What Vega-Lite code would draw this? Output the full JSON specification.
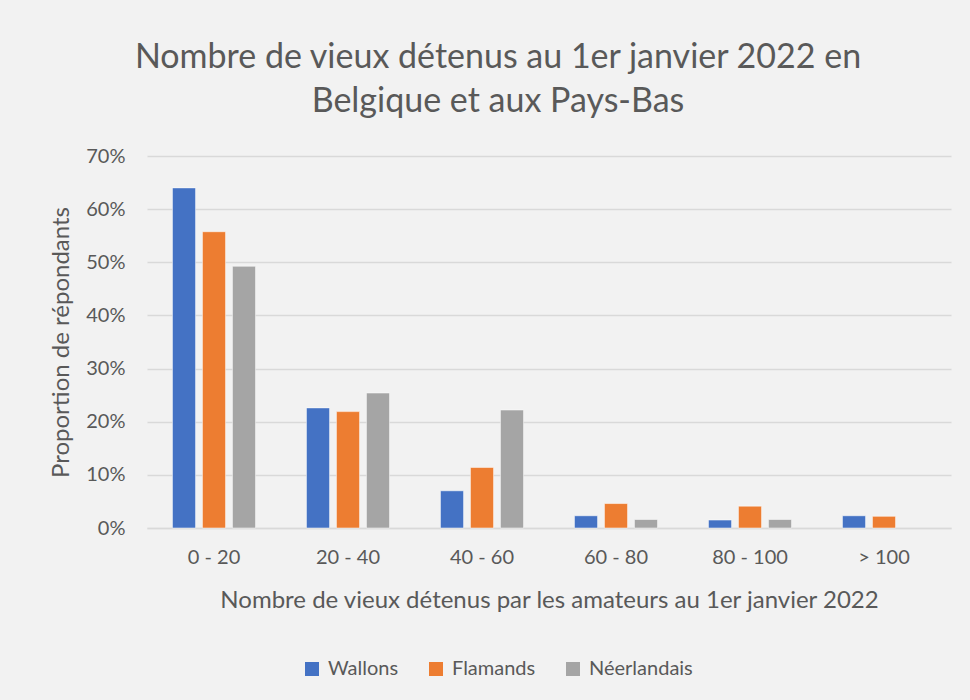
{
  "$schema": "https://vega.github.io/schema/vega-lite/v6.json",
  "width": 804,
  "height": 372,
  "autosize": {"type": "none"},
  "padding": {"left": 147, "top": 156, "right": 19, "bottom": 172},
  "background": "#f2f2f2",
  "title": {
    "text": ["Nombre de vieux détenus au 1er janvier 2022 en", "Belgique et aux Pays-Bas"],
    "anchor": "middle",
    "dx": -51,
    "offset": 27,
    "font": "Lato",
    "fontSize": 34,
    "fontWeight": "normal",
    "color": "#595959",
    "lineHeight": 44
  },
  "config": {
    "view": {"stroke": null},
    "axis": {"labelFont": "Lato", "titleFont": "Lato", "labelColor": "#595959", "titleColor": "#595959", "labelFontSize": 20, "titleFontSize": 24, "titleFontWeight": "normal"},
    "legend": {"labelFont": "Lato", "labelFontSize": 20, "labelColor": "#595959"}
  },
  "data": {
    "values": [
      {"cat": "0 - 20", "groupe": "Wallons", "v": 0.64},
      {"cat": "0 - 20", "groupe": "Flamands", "v": 0.5575},
      {"cat": "0 - 20", "groupe": "Néerlandais", "v": 0.4925},
      {"cat": "20 - 40", "groupe": "Wallons", "v": 0.226},
      {"cat": "20 - 40", "groupe": "Flamands", "v": 0.219},
      {"cat": "20 - 40", "groupe": "Néerlandais", "v": 0.254},
      {"cat": "40 - 60", "groupe": "Wallons", "v": 0.07},
      {"cat": "40 - 60", "groupe": "Flamands", "v": 0.114},
      {"cat": "40 - 60", "groupe": "Néerlandais", "v": 0.222},
      {"cat": "60 - 80", "groupe": "Wallons", "v": 0.023},
      {"cat": "60 - 80", "groupe": "Flamands", "v": 0.046},
      {"cat": "60 - 80", "groupe": "Néerlandais", "v": 0.016},
      {"cat": "80 - 100", "groupe": "Wallons", "v": 0.015},
      {"cat": "80 - 100", "groupe": "Flamands", "v": 0.041},
      {"cat": "80 - 100", "groupe": "Néerlandais", "v": 0.016},
      {"cat": "> 100", "groupe": "Wallons", "v": 0.023},
      {"cat": "> 100", "groupe": "Flamands", "v": 0.022}
    ]
  },
  "mark": {"type": "bar", "stroke": "#ffffff", "strokeOpacity": 0.5, "strokeWidth": 1},
  "encoding": {
    "x": {
      "field": "cat", "type": "nominal", "sort": null,
      "scale": {"paddingInner": 0.38, "paddingOuter": 0.19},
      "axis": {
        "title": "Nombre de vieux détenus par les amateurs au 1er janvier 2022",
        "labelAngle": 0, "ticks": false, "domainColor": "#d9d9d9", "domainWidth": 1.5,
        "labelPadding": 19, "titlePadding": 21
      }
    },
    "xOffset": {
      "field": "groupe", "type": "nominal", "sort": ["Wallons", "Flamands", "Néerlandais"],
      "scale": {"domain": ["Wallons", "Flamands", "Néerlandais"], "paddingInner": 0.23, "paddingOuter": 0}
    },
    "y": {
      "field": "v", "type": "quantitative",
      "scale": {"domain": [0, 0.7]},
      "axis": {
        "title": "Proportion de répondants", "format": ".0%", "values": [0, 0.1, 0.2, 0.3, 0.4, 0.5, 0.6, 0.7],
        "labelOverlap": false,
        "domain": false, "ticks": false, "gridColor": "#d9d9d9", "gridWidth": 1.5,
        "labelPadding": 22, "titlePadding": 12
      }
    },
    "color": {
      "field": "groupe", "type": "nominal", "sort": ["Wallons", "Flamands", "Néerlandais"],
      "scale": {"domain": ["Wallons", "Flamands", "Néerlandais"], "range": ["#4472c4", "#ed7d31", "#a5a5a5"]},
      "legend": {
        "title": null, "orient": "none", "direction": "horizontal",
        "legendX": 155, "legendY": 503,
        "symbolType": "square", "symbolSize": 196, "symbolStrokeWidth": 0,
        "labelOffset": 6, "columnPadding": 27
      }
    }
  }
}
